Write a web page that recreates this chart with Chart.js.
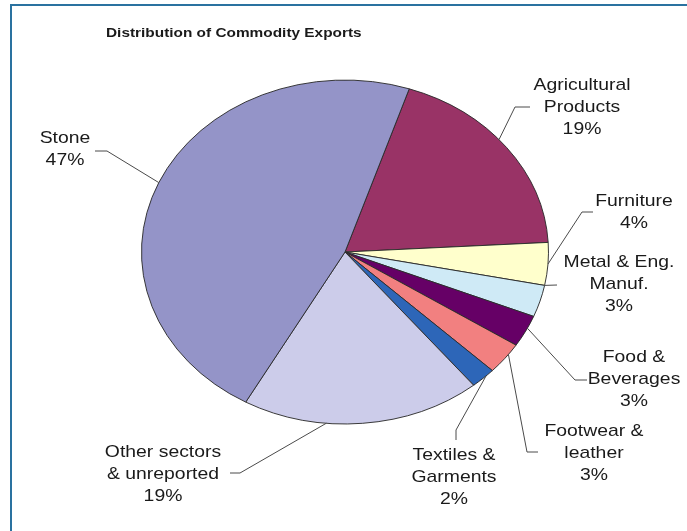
<!DOCTYPE html>
<html>
<head>
<meta charset="utf-8">
<script src="https://cdn.jsdelivr.net/npm/chart.js@4.4.1/dist/chart.umd.min.js"></script>
<style>
  body { margin: 0; background: #fff; }
  #wrap { position: relative; width: 687px; height: 531px; overflow: hidden; }
  #frame { position: absolute; left: 10px; top: 4px; width: 700px; height: 560px;
           border: 2px solid #2a72a0; box-sizing: border-box; }
  canvas { position: absolute; left: 0; top: 0; }
</style>
</head>
<body>
<div id="wrap">
  <div id="frame"></div>
  <canvas id="pie"></canvas>
</div>
<script>
const title = 'Distribution of Commodity Exports';
const categories = ['Agricultural Products', 'Furniture', 'Metal & Eng. Manuf.', 'Food & Beverages',
                    'Footwear & leather', 'Textiles & Garments', 'Other sectors & unreported', 'Stone'];
const shares = [19, 4, 3, 3, 3, 2, 19, 47];
const labelLines = [
  ['Agricultural', 'Products'], ['Furniture'], ['Metal & Eng.', 'Manuf.'], ['Food &', 'Beverages'],
  ['Footwear &', 'leather'], ['Textiles &', 'Garments'], ['Other sectors', '& unreported'], ['Stone']
];
const colors = ['#993366', '#ffffcc', '#cfeaf6', '#660066', '#f28080', '#2d66b8', '#ccccea', '#9494c8'];

// label placement: text centre, first line y, leader-line points, where on the slice the leader starts
const labelPos = [
  { x: 582, y: 85,  at: 0.45, pts: [[515, 107], [530, 107]] },
  { x: 634, y: 201, at: 0.5,  pts: [[582, 212], [593, 212]] },
  { x: 619, y: 262, at: 0.0,  pts: [[557, 285]] },
  { x: 634, y: 357, at: 0.4,  pts: [[575, 380], [587, 380]] },
  { x: 594, y: 431, at: 0.35, pts: [[527, 452], [538, 452]] },
  { x: 454, y: 455, at: 0.35, pts: [[456, 430], [456, 440]] },
  { x: 163, y: 452, at: 0.65, pts: [[240, 473], [230, 473]] },
  { x: 65,  y: 138, at: 0.5,  pts: [[107, 151], [95, 151]] }
];
const yScale = 0.845;
const textStretch = 1.14;

// squash the round pie into an ellipse
const squash = {
  id: 'squash',
  beforeDatasetsDraw(chart) {
    const a = chart.getDatasetMeta(0).data[0];
    const ctx = chart.ctx;
    ctx.save();
    ctx.translate(a.x, a.y);
    ctx.scale(1, yScale);
    ctx.translate(-a.x, -a.y);
  },
  afterDatasetsDraw(chart) { chart.ctx.restore(); }
};

function stretchedText(ctx, txt, x, y) {
  ctx.save();
  ctx.translate(x, y);
  ctx.scale(textStretch, 1);
  ctx.fillText(txt, 0, 0);
  ctx.restore();
}

const labels = {
  id: 'labels',
  afterDraw(chart) {
    const ctx = chart.ctx;
    const arcs = chart.getDatasetMeta(0).data;
    ctx.save();
    ctx.fillStyle = '#1a1a1a';
    ctx.textBaseline = 'middle';
    ctx.font = 'bold 13.5px "Liberation Sans", Arial, sans-serif';
    ctx.textAlign = 'left';
    stretchedText(ctx, title, 106, 33);

    ctx.font = '17px "Liberation Sans", Arial, sans-serif';
    ctx.textAlign = 'center';
    ctx.strokeStyle = '#4a4a4a';
    ctx.lineWidth = 1;
    arcs.forEach((arc, i) => {
      const p = labelPos[i];
      const ang = arc.startAngle + (arc.endAngle - arc.startAngle) * p.at;
      const r = arc.outerRadius;
      ctx.beginPath();
      ctx.moveTo(arc.x + r * Math.cos(ang), arc.y + r * Math.sin(ang) * yScale);
      p.pts.forEach(q => ctx.lineTo(q[0], q[1]));
      ctx.stroke();
      const lines = labelLines[i].concat([shares[i] + '%']);
      lines.forEach((t, j) => stretchedText(ctx, t, p.x, p.y + j * 22));
    });
    ctx.restore();
  }
};

new Chart(document.getElementById('pie'), {
  type: 'pie',
  data: {
    labels: categories,
    datasets: [{
      data: shares,
      backgroundColor: colors,
      borderColor: '#2a2a2a',
      borderWidth: 1
    }]
  },
  options: {
    responsive: true,
    maintainAspectRatio: false,
    animation: false,
    rotation: 18.4,
    layout: { padding: { left: 141, right: 138, top: 48, bottom: 75 } },
    plugins: { legend: { display: false }, tooltip: { enabled: false } }
  },
  plugins: [squash, labels]
});
</script>
</body>
</html>
